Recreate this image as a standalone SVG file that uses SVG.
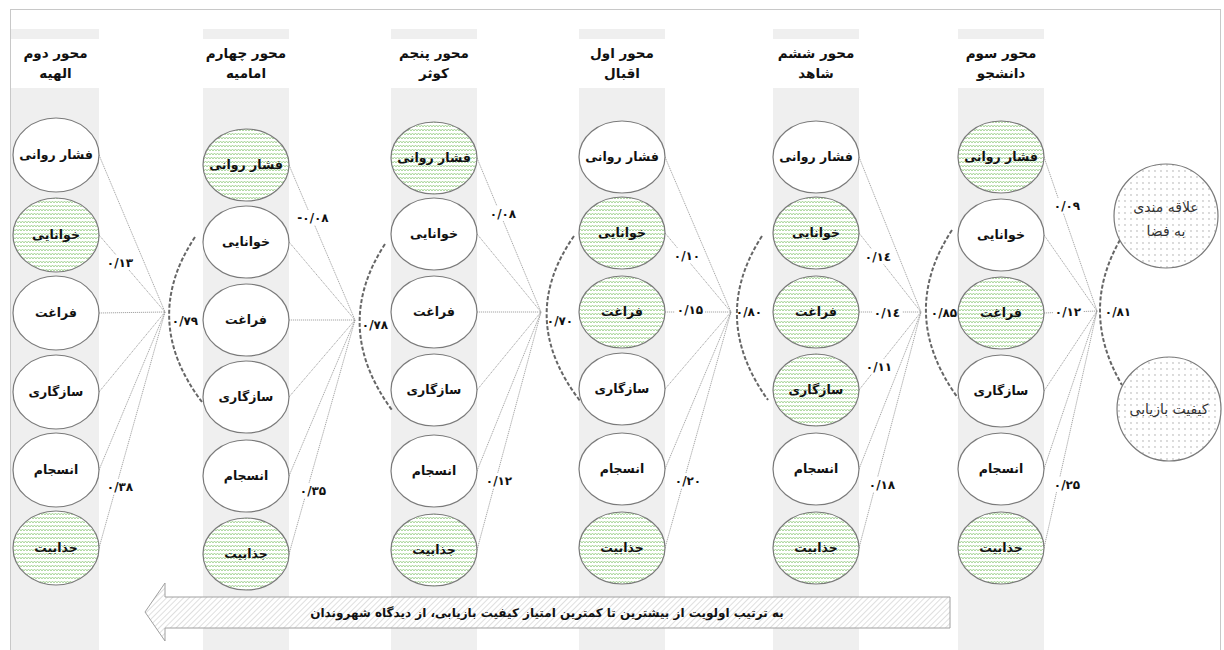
<svg xmlns="http://www.w3.org/2000/svg" width="1224" height="650" viewBox="0 0 1224 650">
<defs>
<pattern id="zig" patternUnits="userSpaceOnUse" width="6" height="4">
<rect width="6" height="4" fill="#ffffff"/>
<polyline points="0,3 1.5,1 3,3 4.5,1 6,3" fill="none" stroke="#9ccf8a" stroke-width="0.85"/>
</pattern>
<pattern id="dots" patternUnits="userSpaceOnUse" width="6" height="6">
<rect width="6" height="6" fill="#ffffff"/>
<circle cx="3" cy="3" r="0.65" fill="#9a9a9a"/>
</pattern>
<pattern id="hatch" patternUnits="userSpaceOnUse" width="4" height="4" patternTransform="rotate(45)">
<rect width="4" height="4" fill="#ffffff"/>
<line x1="0" y1="0" x2="0" y2="4" stroke="#b0b0b0" stroke-width="0.8"/>
</pattern>
</defs>
<style>
.col{fill:#efefef}
.hdr{fill:#ffffff}
.htxt{font-family:"DejaVu Sans",sans-serif;font-weight:bold;font-size:13.5px;fill:#111;text-anchor:middle}
.node{stroke:#7a7a7a;stroke-width:1.2}
.w{fill:#ffffff}
.g{fill:url(#zig)}
.ntxt{font-family:"DejaVu Sans",sans-serif;font-weight:bold;font-size:12.5px;fill:#111;text-anchor:middle}
.big{fill:url(#dots);stroke:#7a7a7a;stroke-width:1.2}
.btxt{font-family:"DejaVu Sans",sans-serif;font-size:14px;fill:#333;text-anchor:middle}
.ln{stroke:#8f8f8f;stroke-width:0.8;stroke-dasharray:1.2 0.8;fill:none}
.arc{stroke:#666;stroke-width:2;stroke-dasharray:4 2;fill:none}
.lb{fill:#ffffff}
.ltxt{font-family:"DejaVu Sans",sans-serif;font-weight:bold;font-size:12px;fill:#111;text-anchor:middle}
.atxt{font-family:"DejaVu Sans",sans-serif;font-weight:bold;font-size:12px;fill:#111;text-anchor:middle}
</style>
<rect x="10.5" y="9.5" width="1210" height="660" fill="#ffffff" stroke="#c8c8c8" stroke-width="1"/>
<g id="columns">
<rect class="col" x="11" y="29" width="88" height="630"/>
<rect class="col" x="203" y="29" width="86" height="630"/>
<rect class="col" x="391" y="29" width="86" height="630"/>
<rect class="col" x="579" y="29" width="86" height="630"/>
<rect class="col" x="773" y="29" width="86" height="630"/>
<rect class="col" x="958" y="29" width="86" height="630"/>
<rect class="hdr" x="11" y="39" width="88" height="49"/>
<rect class="hdr" x="203" y="39" width="86" height="49"/>
<rect class="hdr" x="391" y="39" width="86" height="49"/>
<rect class="hdr" x="579" y="39" width="86" height="49"/>
<rect class="hdr" x="773" y="39" width="86" height="49"/>
<rect class="hdr" x="958" y="39" width="86" height="49"/>
<text class="htxt" x="55.5" y="58">محور دوم</text><text class="htxt" x="55.5" y="78">الهیه</text>
<text class="htxt" x="246" y="58">محور چهارم</text><text class="htxt" x="246" y="78">امامیه</text>
<text class="htxt" x="434" y="58">محور پنجم</text><text class="htxt" x="434" y="78">کوثر</text>
<text class="htxt" x="622" y="58">محور اول</text><text class="htxt" x="622" y="78">اقبال</text>
<text class="htxt" x="816" y="58">محور ششم</text><text class="htxt" x="816" y="78">شاهد</text>
<text class="htxt" x="1001" y="58">محور سوم</text><text class="htxt" x="1001" y="78">دانشجو</text>
</g>
<g id="connectors">
<line class="ln" x1="99" y1="155" x2="165" y2="312"/>
<line class="ln" x1="99" y1="235" x2="165" y2="312"/>
<line class="ln" x1="99" y1="313" x2="165" y2="312"/>
<line class="ln" x1="99" y1="392" x2="165" y2="312"/>
<line class="ln" x1="99" y1="470" x2="165" y2="312"/>
<line class="ln" x1="99" y1="548" x2="165" y2="312"/>
<path class="arc" d="M195,237 Q140,320 202,402"/>
<line class="ln" x1="289" y1="165" x2="355" y2="320"/>
<line class="ln" x1="289" y1="242" x2="355" y2="320"/>
<line class="ln" x1="289" y1="320" x2="355" y2="320"/>
<line class="ln" x1="289" y1="397" x2="355" y2="320"/>
<line class="ln" x1="289" y1="476" x2="355" y2="320"/>
<line class="ln" x1="289" y1="554" x2="355" y2="320"/>
<path class="arc" d="M385,244 Q331,327 392,410"/>
<line class="ln" x1="477" y1="158" x2="541" y2="312"/>
<line class="ln" x1="477" y1="234" x2="541" y2="312"/>
<line class="ln" x1="477" y1="312" x2="541" y2="312"/>
<line class="ln" x1="477" y1="390" x2="541" y2="312"/>
<line class="ln" x1="477" y1="471" x2="541" y2="312"/>
<line class="ln" x1="477" y1="550" x2="541" y2="312"/>
<path class="arc" d="M574,236 Q516,319 581,402"/>
<line class="ln" x1="665" y1="157" x2="731" y2="312"/>
<line class="ln" x1="665" y1="233" x2="731" y2="312"/>
<line class="ln" x1="665" y1="312" x2="731" y2="312"/>
<line class="ln" x1="665" y1="389" x2="731" y2="312"/>
<line class="ln" x1="665" y1="469" x2="731" y2="312"/>
<line class="ln" x1="665" y1="548" x2="731" y2="312"/>
<path class="arc" d="M762,236 Q709,318 768,400"/>
<line class="ln" x1="859" y1="157" x2="921" y2="312"/>
<line class="ln" x1="859" y1="233" x2="921" y2="312"/>
<line class="ln" x1="859" y1="312" x2="921" y2="312"/>
<line class="ln" x1="859" y1="390" x2="921" y2="312"/>
<line class="ln" x1="859" y1="469" x2="921" y2="312"/>
<line class="ln" x1="859" y1="548" x2="921" y2="312"/>
<path class="arc" d="M952,230 Q897,314 958,398"/>
<line class="ln" x1="1044" y1="157" x2="1097" y2="311"/>
<line class="ln" x1="1044" y1="235" x2="1097" y2="311"/>
<line class="ln" x1="1044" y1="313" x2="1097" y2="311"/>
<line class="ln" x1="1044" y1="391" x2="1097" y2="311"/>
<line class="ln" x1="1044" y1="469" x2="1097" y2="311"/>
<line class="ln" x1="1044" y1="548" x2="1097" y2="311"/>
<path class="arc" d="M1120,240 Q1079,312 1122,385"/>
</g>
<g id="labels">
<rect class="lb" x="105" y="255" width="30" height="15"/><text class="ltxt" x="120" y="267">۰/۱۳</text>
<rect class="lb" x="105" y="479" width="30" height="15"/><text class="ltxt" x="120" y="491">۰/۳۸</text>
<text class="ltxt" x="185" y="325">۰/۷۹</text>
<rect class="lb" x="293" y="210" width="40" height="15"/><text class="ltxt" x="313" y="222" letter-spacing="1.5">-۰/۰۸</text>
<rect class="lb" x="298" y="483" width="30" height="15"/><text class="ltxt" x="313" y="495">۰/۳۵</text>
<text class="ltxt" x="375" y="329">۰/۷۸</text>
<rect class="lb" x="488" y="206" width="30" height="15"/><text class="ltxt" x="503" y="218">۰/۰۸</text>
<rect class="lb" x="484" y="473" width="30" height="15"/><text class="ltxt" x="499" y="485">۰/۱۲</text>
<text class="ltxt" x="560" y="325">۰/۷۰</text>
<rect class="lb" x="672" y="248" width="30" height="15"/><text class="ltxt" x="687" y="260">۰/۱۰</text>
<rect class="lb" x="675" y="302" width="30" height="15"/><text class="ltxt" x="690" y="314">۰/۱۵</text>
<rect class="lb" x="673" y="473" width="30" height="15"/><text class="ltxt" x="688" y="485">۰/۲۰</text>
<text class="ltxt" x="749" y="316">۰/۸۰</text>
<rect class="lb" x="863" y="249" width="30" height="15"/><text class="ltxt" x="878" y="261">۰/۱٤</text>
<rect class="lb" x="872" y="305" width="30" height="15"/><text class="ltxt" x="887" y="317">۰/۱٤</text>
<rect class="lb" x="864" y="359" width="30" height="15"/><text class="ltxt" x="879" y="371">۰/۱۱</text>
<rect class="lb" x="867" y="477" width="30" height="15"/><text class="ltxt" x="882" y="489">۰/۱۸</text>
<text class="ltxt" x="944" y="317">۰/۸۵</text>
<rect class="lb" x="1052" y="198" width="30" height="15"/><text class="ltxt" x="1067" y="210">۰/۰۹</text>
<rect class="lb" x="1053" y="304" width="30" height="15"/><text class="ltxt" x="1068" y="316">۰/۱۲</text>
<rect class="lb" x="1052" y="477" width="30" height="15"/><text class="ltxt" x="1067" y="489">۰/۲۵</text>
<text class="ltxt" x="1118" y="316">۰/۸۱</text>
</g>
<g id="n1-fashar"><ellipse class="node w" cx="56" cy="155" rx="43" ry="37"/><text class="ntxt" x="56" y="159">فشار روانی</text></g>
<g id="n1-khanaie"><ellipse class="node g" cx="56" cy="235" rx="43" ry="37"/><text class="ntxt" x="56" y="239">خوانایی</text></g>
<g id="n1-faraghat"><ellipse class="node w" cx="56" cy="313" rx="43" ry="37"/><text class="ntxt" x="56" y="317">فراغت</text></g>
<g id="n1-sazgari"><ellipse class="node w" cx="56" cy="392" rx="43" ry="37"/><text class="ntxt" x="56" y="396">سازگاری</text></g>
<g id="n1-ensejam"><ellipse class="node w" cx="56" cy="470" rx="43" ry="37"/><text class="ntxt" x="56" y="474">انسجام</text></g>
<g id="n1-jazabiat"><ellipse class="node g" cx="56" cy="548" rx="43" ry="37"/><text class="ntxt" x="56" y="552">جذابیت</text></g>
<g id="n2-fashar"><ellipse class="node g" cx="246" cy="165" rx="43" ry="36"/><text class="ntxt" x="246" y="169">فشار روانی</text></g>
<g id="n2-khanaie"><ellipse class="node w" cx="246" cy="242" rx="43" ry="36"/><text class="ntxt" x="246" y="246">خوانایی</text></g>
<g id="n2-faraghat"><ellipse class="node w" cx="246" cy="320" rx="43" ry="36"/><text class="ntxt" x="246" y="324">فراغت</text></g>
<g id="n2-sazgari"><ellipse class="node w" cx="246" cy="397" rx="43" ry="36"/><text class="ntxt" x="246" y="401">سازگاری</text></g>
<g id="n2-ensejam"><ellipse class="node w" cx="246" cy="476" rx="43" ry="36"/><text class="ntxt" x="246" y="480">انسجام</text></g>
<g id="n2-jazabiat"><ellipse class="node g" cx="246" cy="554" rx="43" ry="36"/><text class="ntxt" x="246" y="558">جذابیت</text></g>
<g id="n3-fashar"><ellipse class="node g" cx="434" cy="158" rx="43" ry="36"/><text class="ntxt" x="434" y="162">فشار روانی</text></g>
<g id="n3-khanaie"><ellipse class="node w" cx="434" cy="234" rx="43" ry="36"/><text class="ntxt" x="434" y="238">خوانایی</text></g>
<g id="n3-faraghat"><ellipse class="node w" cx="434" cy="312" rx="43" ry="36"/><text class="ntxt" x="434" y="316">فراغت</text></g>
<g id="n3-sazgari"><ellipse class="node w" cx="434" cy="390" rx="43" ry="36"/><text class="ntxt" x="434" y="394">سازگاری</text></g>
<g id="n3-ensejam"><ellipse class="node w" cx="434" cy="471" rx="43" ry="36"/><text class="ntxt" x="434" y="475">انسجام</text></g>
<g id="n3-jazabiat"><ellipse class="node g" cx="434" cy="550" rx="43" ry="36"/><text class="ntxt" x="434" y="554">جذابیت</text></g>
<g id="n4-fashar"><ellipse class="node w" cx="622" cy="157" rx="43" ry="36"/><text class="ntxt" x="622" y="161">فشار روانی</text></g>
<g id="n4-khanaie"><ellipse class="node g" cx="622" cy="233" rx="43" ry="36"/><text class="ntxt" x="622" y="237">خوانایی</text></g>
<g id="n4-faraghat"><ellipse class="node g" cx="622" cy="312" rx="43" ry="36"/><text class="ntxt" x="622" y="316">فراغت</text></g>
<g id="n4-sazgari"><ellipse class="node w" cx="622" cy="389" rx="43" ry="36"/><text class="ntxt" x="622" y="393">سازگاری</text></g>
<g id="n4-ensejam"><ellipse class="node w" cx="622" cy="469" rx="43" ry="36"/><text class="ntxt" x="622" y="473">انسجام</text></g>
<g id="n4-jazabiat"><ellipse class="node g" cx="622" cy="548" rx="43" ry="36"/><text class="ntxt" x="622" y="552">جذابیت</text></g>
<g id="n5-fashar"><ellipse class="node w" cx="816" cy="157" rx="43" ry="36"/><text class="ntxt" x="816" y="161">فشار روانی</text></g>
<g id="n5-khanaie"><ellipse class="node g" cx="816" cy="233" rx="43" ry="36"/><text class="ntxt" x="816" y="237">خوانایی</text></g>
<g id="n5-faraghat"><ellipse class="node g" cx="816" cy="312" rx="43" ry="36"/><text class="ntxt" x="816" y="316">فراغت</text></g>
<g id="n5-sazgari"><ellipse class="node g" cx="816" cy="390" rx="43" ry="36"/><text class="ntxt" x="816" y="394">سازگاری</text></g>
<g id="n5-ensejam"><ellipse class="node w" cx="816" cy="469" rx="43" ry="36"/><text class="ntxt" x="816" y="473">انسجام</text></g>
<g id="n5-jazabiat"><ellipse class="node g" cx="816" cy="548" rx="43" ry="36"/><text class="ntxt" x="816" y="552">جذابیت</text></g>
<g id="n6-fashar"><ellipse class="node g" cx="1001" cy="157" rx="43" ry="36"/><text class="ntxt" x="1001" y="161">فشار روانی</text></g>
<g id="n6-khanaie"><ellipse class="node w" cx="1001" cy="235" rx="43" ry="36"/><text class="ntxt" x="1001" y="239">خوانایی</text></g>
<g id="n6-faraghat"><ellipse class="node g" cx="1001" cy="313" rx="43" ry="36"/><text class="ntxt" x="1001" y="317">فراغت</text></g>
<g id="n6-sazgari"><ellipse class="node w" cx="1001" cy="391" rx="43" ry="36"/><text class="ntxt" x="1001" y="395">سازگاری</text></g>
<g id="n6-ensejam"><ellipse class="node w" cx="1001" cy="469" rx="43" ry="36"/><text class="ntxt" x="1001" y="473">انسجام</text></g>
<g id="n6-jazabiat"><ellipse class="node g" cx="1001" cy="548" rx="43" ry="36"/><text class="ntxt" x="1001" y="552">جذابیت</text></g>
<g id="interest"><circle class="big" cx="1166" cy="216" r="52"/><text class="btxt" x="1166" y="212">علاقه مندی</text><text class="btxt" x="1166" y="236">به فضا</text></g>
<g id="quality"><circle class="big" cx="1169" cy="409" r="52"/><text class="btxt" x="1169" y="414">کیفیت بازیابی</text></g>
<g id="priority-arrow">
<polygon points="145,612 165,583 165,597 950,597 950,628 165,628 165,641" fill="url(#hatch)" stroke="#a0a0a0" stroke-width="1"/>
<text class="atxt" x="547" y="617">به ترتیب اولویت از بیشترین تا کمترین امتیاز کیفیت بازیابی، از دیدگاه شهروندان</text>
</g>
</svg>
